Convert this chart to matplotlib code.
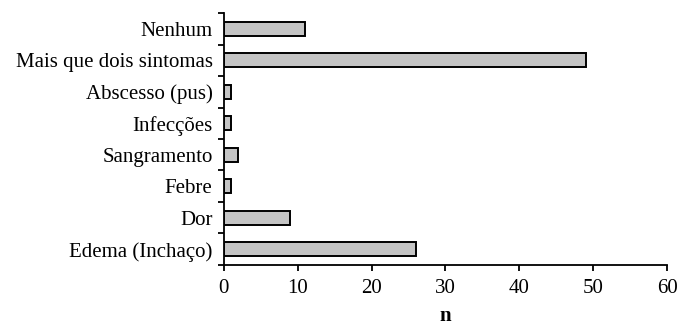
import matplotlib
matplotlib.use("Agg")
import matplotlib.pyplot as plt
import numpy as np

categories = ["Edema (Inchaço)", "Dor", "Febre", "Sangramento", "Infecções",
              "Abscesso (pus)", "Mais que dois sintomas", "Nenhum"]
values = [26, 9, 1, 2, 1, 1, 49, 11]
xticks = [0, 10, 20, 30, 40, 50, 60]

plt.rcParams['font.family'] = ['Liberation Serif', 'DejaVu Serif']

fig = plt.figure(figsize=(6.8, 3.27), dpi=100)
ax = fig.add_axes([0.329, 0.190, 0.652, 0.770])

y = np.arange(len(categories))
ax.barh(y, values, height=0.45, color="#c4c4c4", edgecolor="black", linewidth=1.4)

ax.set_ylim(-0.5, len(categories) - 0.5)
ax.set_xlim(0, 60)
ax.set_yticks(y)
ax.set_yticklabels(categories, fontsize=15)
ax.tick_params(axis='y', which='major', length=0, pad=8)
ax.set_yticks(np.arange(-0.5, len(categories), 1.0), minor=True)
ax.tick_params(axis='y', which='minor', length=4, width=1.3, direction='out')

ax.set_xticks(xticks)
ax.set_xticklabels([str(t) for t in xticks], fontsize=15)
ax.tick_params(axis='x', length=4, width=1.3, direction='out', pad=6)

ax.set_xlabel("n", fontsize=15, fontweight='bold', labelpad=6)

for s in ['top', 'right']:
    ax.spines[s].set_visible(False)
for s in ['left', 'bottom']:
    ax.spines[s].set_linewidth(1.3)

fig.savefig("out.png", dpi=100)
